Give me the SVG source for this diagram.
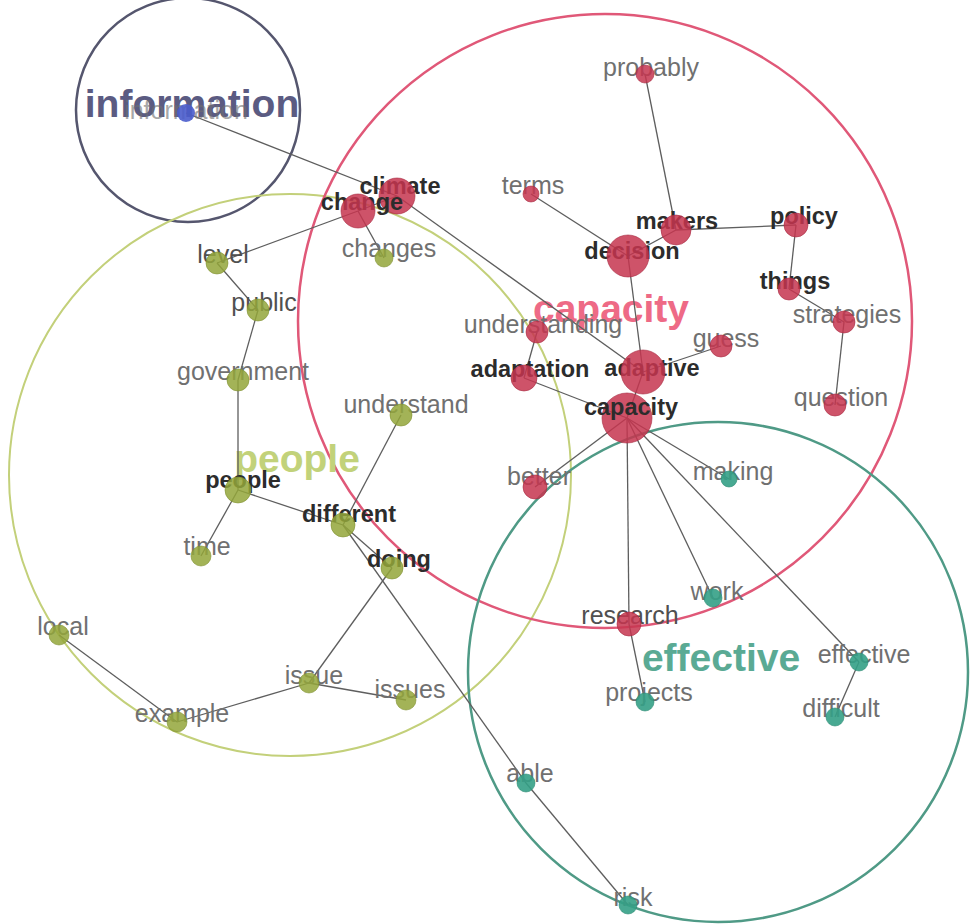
<svg xmlns="http://www.w3.org/2000/svg" width="972" height="924" viewBox="0 0 972 924">
  <style>
    .hull { fill: none; }
    .big { font-family: "Liberation Sans", Arial, sans-serif; font-size: 39px; font-weight: bold; text-anchor: middle; }
    .lbl { font-family: "Liberation Sans", Arial, sans-serif; font-size: 25px; text-anchor: middle; fill: #707070; }
    .strong { font-weight: bold; font-size: 23.5px; fill: #2c2c2c; }
    .mid { fill: #505050; }
    .edge { stroke: #5e5e5e; stroke-width: 1.3; fill: none; }
    .red { fill: #c6354f; fill-opacity: 0.85; stroke: #a82a42; stroke-width: 0.6; }
    .grn { fill: #93a63a; fill-opacity: 0.85; stroke: #7f9030; stroke-width: 0.6; }
    .teal { fill: #34a086; fill-opacity: 0.9; stroke: #2a8a72; stroke-width: 0.6; }
    .blue { fill: #4a5ccc; fill-opacity: 0.9; }
  </style>

  <rect width="972" height="924" fill="#ffffff"/>

  <!-- cluster hulls -->
  <g id="clusters">
    <circle class="hull" cx="188" cy="110" r="112" stroke="#55566e" stroke-width="2.5"/>
    <circle class="hull" cx="290" cy="475" r="281" stroke="#c3d07a" stroke-width="2"/>
    <circle class="hull" cx="605" cy="321" r="307" stroke="#e05878" stroke-width="2.5"/>
    <circle class="hull" cx="718" cy="672" r="250" stroke="#4f9a86" stroke-width="2.5"/>
  </g>

  <!-- cluster titles -->
  <g id="cluster-titles">
    <text class="big" x="192" y="117" fill="#5b5b82">information</text>
    <text class="big" x="611" y="322" fill="#ee6a86">capacity</text>
    <text class="big" x="297" y="472" fill="#c2d27a">people</text>
    <text class="big" x="721" y="671" fill="#5aaa94">effective</text>
  </g>

  <!-- connectors -->
  <g id="edges">
    <line class="edge" x1="186" y1="113" x2="397" y2="196"/>
    <line class="edge" x1="397" y1="196" x2="358" y2="211"/>
    <line class="edge" x1="358" y1="211" x2="217" y2="263"/>
    <line class="edge" x1="358" y1="211" x2="384" y2="258"/>
    <line class="edge" x1="397" y1="196" x2="643" y2="372"/>
    <line class="edge" x1="217" y1="263" x2="258" y2="310"/>
    <line class="edge" x1="258" y1="310" x2="238" y2="380"/>
    <line class="edge" x1="238" y1="380" x2="238" y2="490"/>
    <line class="edge" x1="238" y1="490" x2="201" y2="556"/>
    <line class="edge" x1="238" y1="490" x2="343" y2="525"/>
    <line class="edge" x1="343" y1="525" x2="401" y2="415"/>
    <line class="edge" x1="343" y1="525" x2="392" y2="568" stroke="#6f8a50"/>
    <line class="edge" x1="343" y1="525" x2="526" y2="783"/>
    <line class="edge" x1="392" y1="568" x2="309" y2="683"/>
    <line class="edge" x1="309" y1="683" x2="406" y2="700"/>
    <line class="edge" x1="309" y1="683" x2="177" y2="722"/>
    <line class="edge" x1="177" y1="722" x2="59" y2="635"/>
    <line class="edge" x1="526" y1="783" x2="628" y2="905"/>
    <line class="edge" x1="531" y1="194" x2="628" y2="256"/>
    <line class="edge" x1="628" y1="256" x2="676" y2="230"/>
    <line class="edge" x1="676" y1="230" x2="645" y2="74"/>
    <line class="edge" x1="676" y1="230" x2="796" y2="225"/>
    <line class="edge" x1="796" y1="225" x2="789" y2="289"/>
    <line class="edge" x1="789" y1="289" x2="844" y2="322"/>
    <line class="edge" x1="844" y1="322" x2="835" y2="405"/>
    <line class="edge" x1="628" y1="256" x2="643" y2="372"/>
    <line class="edge" x1="643" y1="372" x2="721" y2="346"/>
    <line class="edge" x1="643" y1="372" x2="627" y2="418"/>
    <line class="edge" x1="537" y1="332" x2="524" y2="378"/>
    <line class="edge" x1="524" y1="378" x2="627" y2="418"/>
    <line class="edge" x1="627" y1="418" x2="535" y2="487"/>
    <line class="edge" x1="627" y1="418" x2="629" y2="624"/>
    <line class="edge" x1="627" y1="418" x2="713" y2="598"/>
    <line class="edge" x1="627" y1="418" x2="729" y2="479"/>
    <line class="edge" x1="627" y1="418" x2="859" y2="662"/>
    <line class="edge" x1="629" y1="624" x2="645" y2="702"/>
    <line class="edge" x1="859" y1="662" x2="835" y2="717"/>
  </g>

  <!-- nodes: label first, marker on top -->
  <g id="n-information"><text class="lbl" x="186" y="119" fill="#8a8a8a" opacity="0.6">information</text><circle class="blue" cx="186" cy="113" r="9"/></g>

  <g id="n-climate"><text class="lbl strong" x="400" y="194">climate</text><circle class="red" cx="397" cy="196" r="18"/></g>
  <g id="n-change"><text class="lbl strong" x="362" y="210">change</text><circle class="red" cx="358" cy="211" r="17"/></g>
  <g id="n-changes"><text class="lbl" x="389" y="257">changes</text><circle class="grn" cx="384" cy="258" r="9"/></g>
  <g id="n-probably"><text class="lbl" x="651" y="76">probably</text><circle class="red" cx="645" cy="74" r="9"/></g>
  <g id="n-terms"><text class="lbl" x="533" y="194">terms</text><circle class="red" cx="531" cy="194" r="8"/></g>
  <g id="n-makers"><text class="lbl strong" x="677" y="229">makers</text><circle class="red" cx="676" cy="230" r="15"/></g>
  <g id="n-decision"><text class="lbl strong" x="632" y="259">decision</text><circle class="red" cx="628" cy="256" r="21"/></g>
  <g id="n-policy"><text class="lbl strong" x="804" y="224">policy</text><circle class="red" cx="796" cy="225" r="12"/></g>
  <g id="n-things"><text class="lbl strong" x="795" y="289">things</text><circle class="red" cx="789" cy="289" r="11"/></g>
  <g id="n-strategies"><text class="lbl" x="847" y="323">strategies</text><circle class="red" cx="844" cy="322" r="11"/></g>
  <g id="n-question"><text class="lbl" x="841" y="406">question</text><circle class="red" cx="835" cy="405" r="11"/></g>
  <g id="n-guess"><text class="lbl" x="726" y="347">guess</text><circle class="red" cx="721" cy="346" r="11"/></g>
  <g id="n-understanding"><text class="lbl" x="543" y="333">understanding</text><circle class="red" cx="537" cy="332" r="11"/></g>
  <g id="n-adaptation"><text class="lbl strong" x="530" y="377" fill="#3c3c3c">adaptation</text><circle class="red" cx="524" cy="378" r="13"/></g>
  <g id="n-adaptive"><text class="lbl strong" x="652" y="376">adaptive</text><circle class="red" cx="643" cy="372" r="22"/></g>
  <g id="n-capacity"><circle class="red" cx="627" cy="418" r="25"/><text class="lbl strong" x="631" y="415">capacity</text></g>
  <g id="n-better"><text class="lbl" x="539" y="485">better</text><circle class="red" cx="535" cy="487" r="12"/></g>
  <g id="n-research"><text class="lbl mid" x="630" y="624">research</text><circle class="red" cx="629" cy="624" r="12"/></g>

  <g id="n-making"><text class="lbl" x="733" y="480">making</text><circle class="teal" cx="729" cy="479" r="8"/></g>
  <g id="n-work"><text class="lbl" x="717" y="600">work</text><circle class="teal" cx="713" cy="598" r="9"/></g>
  <g id="n-projects"><text class="lbl" x="649" y="701">projects</text><circle class="teal" cx="645" cy="702" r="9"/></g>
  <g id="n-effective"><text class="lbl" x="864" y="663">effective</text><circle class="teal" cx="859" cy="662" r="9"/></g>
  <g id="n-difficult"><text class="lbl" x="841" y="717">difficult</text><circle class="teal" cx="835" cy="717" r="9"/></g>
  <g id="n-able"><text class="lbl" x="530" y="782">able</text><circle class="teal" cx="526" cy="783" r="9"/></g>
  <g id="n-risk"><text class="lbl" x="633" y="906">risk</text><circle class="teal" cx="628" cy="905" r="9"/></g>

  <g id="n-level"><text class="lbl mid" x="223" y="263">level</text><circle class="grn" cx="217" cy="263" r="11"/></g>
  <g id="n-public"><text class="lbl mid" x="264" y="311">public</text><circle class="grn" cx="258" cy="310" r="11"/></g>
  <g id="n-government"><text class="lbl" x="243" y="380">government</text><circle class="grn" cx="238" cy="380" r="11"/></g>
  <g id="n-understand"><text class="lbl" x="406" y="413">understand</text><circle class="grn" cx="401" cy="415" r="11"/></g>
  <g id="n-people"><text class="lbl strong" x="243" y="488">people</text><circle class="grn" cx="238" cy="490" r="13"/></g>
  <g id="n-time"><text class="lbl" x="207" y="555">time</text><circle class="grn" cx="201" cy="556" r="10"/></g>
  <g id="n-different"><text class="lbl strong" x="349" y="522">different</text><circle class="grn" cx="343" cy="525" r="12"/></g>
  <g id="n-doing"><text class="lbl strong" x="399" y="567" fill="#444444">doing</text><circle class="grn" cx="392" cy="568" r="11"/></g>
  <g id="n-local"><text class="lbl" x="63" y="635">local</text><circle class="grn" cx="59" cy="635" r="10"/></g>
  <g id="n-issue"><text class="lbl" x="314" y="684">issue</text><circle class="grn" cx="309" cy="683" r="10"/></g>
  <g id="n-issues"><text class="lbl" x="410" y="698">issues</text><circle class="grn" cx="406" cy="700" r="10"/></g>
  <g id="n-example"><text class="lbl" x="182" y="722">example</text><circle class="grn" cx="177" cy="722" r="10"/></g>
</svg>
